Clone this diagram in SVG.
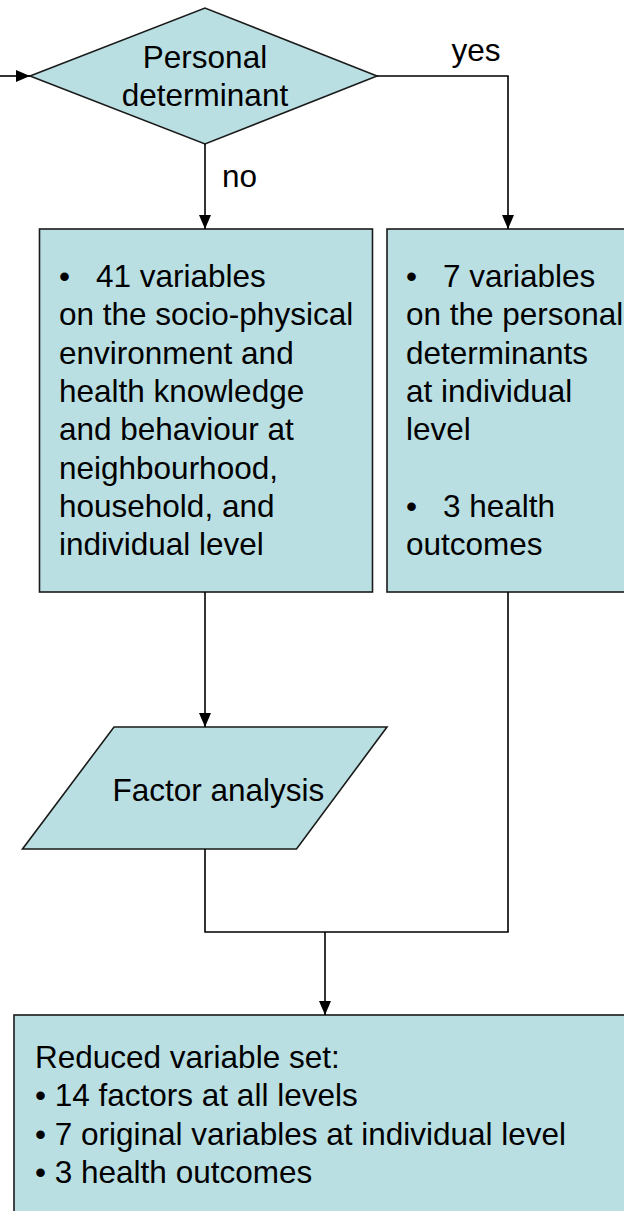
<svg xmlns="http://www.w3.org/2000/svg" width="624" height="1211" viewBox="0 0 624 1211">
  <defs>
    <marker id="arr" viewBox="0 0 14 12" refX="14" refY="6" markerWidth="14" markerHeight="12" markerUnits="userSpaceOnUse" orient="auto">
      <path d="M0,0 L14,6 L0,12 Z" fill="#000"/>
    </marker>
    <style>
      .shape { fill: #B9DFE3; stroke: #1a1a1a; stroke-width: 1.6; }
      .conn { fill: none; stroke: #000; stroke-width: 1.6; }
      text { font-family: "Liberation Sans", Arial, sans-serif; font-size: 31.5px; fill: #000; }
      .mid { text-anchor: middle; }
    </style>
  </defs>
  <rect x="0" y="0" width="624" height="1211" fill="#fff"/>

  <g id="decision">
    <polygon class="shape" points="30,76 205,8 377,76 205,144"/>
    <text class="mid" x="205" y="68">Personal</text>
    <text class="mid" x="205" y="106">determinant</text>
  </g>

  <g id="box-env">
    <rect class="shape" x="39.5" y="229" width="333" height="363"/>
    <text x="59" y="287">•</text>
    <text x="96" y="287">41 variables</text>
    <text x="59" y="325.3">on the socio-physical</text>
    <text x="59" y="363.6">environment and</text>
    <text x="59" y="401.9">health knowledge</text>
    <text x="59" y="440.2">and behaviour at</text>
    <text x="59" y="478.5">neighbourhood,</text>
    <text x="59" y="516.8">household, and</text>
    <text x="59" y="555.1">individual level</text>
  </g>

  <g id="box-personal">
    <rect class="shape" x="387" y="229" width="250" height="363"/>
    <text x="406" y="287">•</text>
    <text x="443" y="287">7 variables</text>
    <text x="406" y="325.3">on the personal</text>
    <text x="406" y="363.6">determinants</text>
    <text x="406" y="401.9">at individual</text>
    <text x="406" y="440.2">level</text>
    <text x="406" y="516.8">•</text>
    <text x="443" y="516.8">3 health</text>
    <text x="406" y="555.1">outcomes</text>
  </g>

  <g id="factor-analysis">
    <polygon class="shape" points="114,727 387,727 296.5,849 22.5,849"/>
    <text x="112.5" y="801">Factor analysis</text>
  </g>

  <g id="reduced-set">
    <rect class="shape" x="14" y="1015" width="640" height="220"/>
    <text x="35" y="1068">Reduced variable set:</text>
    <text x="35" y="1106.3">• 14 factors at all levels</text>
    <text x="35" y="1144.6">• 7 original variables at individual level</text>
    <text x="35" y="1182.9">• 3 health outcomes</text>
  </g>

  <g id="connectors">
    <line class="conn" x1="0" y1="76" x2="30" y2="76" marker-end="url(#arr)"/>
    <line class="conn" x1="205" y1="144" x2="205" y2="229" marker-end="url(#arr)"/>
    <polyline class="conn" points="377,76 508,76 508,229" marker-end="url(#arr)"/>
    <line class="conn" x1="205" y1="592" x2="205" y2="727" marker-end="url(#arr)"/>
    <polyline class="conn" points="205,849 205,932 508,932 508,592"/>
    <line class="conn" x1="325" y1="932" x2="325" y2="1015" marker-end="url(#arr)"/>
    <text x="222" y="187">no</text>
    <text x="451.5" y="61">yes</text>
  </g>
</svg>
